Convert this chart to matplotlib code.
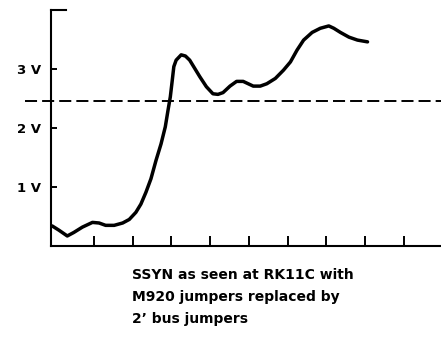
"""SSYN waveform at the RK11C with 2' bus jumpers."""

import matplotlib.pyplot as plt

# time in scope divisions, level in volts
t_div = [-0.08, 0.09, 0.31, 0.48, 0.70, 0.96, 1.13, 1.30, 1.52, 1.74, 1.91,
         2.08, 2.21, 2.34, 2.47, 2.60, 2.73, 2.84, 2.91, 2.97, 3.02, 3.06,
         3.12, 3.25, 3.36, 3.47, 3.60, 3.73, 3.90, 4.07, 4.20, 4.33, 4.51,
         4.68, 4.85, 4.98, 5.11, 5.29, 5.46, 5.68, 5.89, 6.07, 6.24, 6.41,
         6.63, 6.84, 7.06, 7.19, 7.36, 7.58, 7.80, 8.06]
ssyn_v = [0.34, 0.27, 0.17, 0.23, 0.32, 0.40, 0.39, 0.35, 0.35, 0.39, 0.45,
          0.57, 0.71, 0.91, 1.14, 1.45, 1.73, 2.02, 2.30, 2.53, 2.81, 3.04,
          3.15, 3.24, 3.22, 3.15, 3.01, 2.87, 2.70, 2.58, 2.57, 2.60, 2.71,
          2.79, 2.79, 2.75, 2.71, 2.71, 2.75, 2.84, 2.98, 3.12, 3.32, 3.49,
          3.62, 3.69, 3.73, 3.69, 3.62, 3.54, 3.49, 3.46]
threshold_v = 2.46
y_ticks = [1, 2, 3]
y_labels = ["1 V", "2 V", "3 V"]
x_ticks = [1, 2, 3, 4, 5, 6, 7, 8, 9]
caption_lines = ["SSYN as seen at RK11C with",
                 "M920 jumpers replaced by",
                 "2\u2019 bus jumpers"]

W, H = 441, 340
fig = plt.figure(figsize=(W / 100, H / 100), dpi=100)
ax = fig.add_axes([51 / W, (H - 246) / H, (W - 51) / W, 236 / H])

ax.plot(t_div, ssyn_v, color="black", linewidth=2.5,
        solid_joinstyle="round", solid_capstyle="round")

# receiver threshold, running a little past the axis on the left
ax.axhline(threshold_v, xmin=-26 / (W - 51), xmax=1, color="black",
           linewidth=1.4, dashes=(6.2, 2.6), clip_on=False)

ax.set_xlim(-0.11, 9.956)
ax.set_ylim(0, 4)

for side in ("top", "right"):
    ax.spines[side].set_visible(False)
ax.spines["left"].set_linewidth(1.5)
ax.spines["bottom"].set_linewidth(1.5)

# small serif at the top of the voltage axis
ax.plot([0, 15 / (W - 51)], [1, 1], transform=ax.transAxes, color="black",
        linewidth=1.5, clip_on=False, solid_capstyle="projecting")

ax.set_yticks(y_ticks)
ax.set_yticklabels(y_labels)
ax.set_xticks(x_ticks)
ax.set_xticklabels([])
ax.tick_params(axis="y", direction="in", length=4, width=1.4, pad=7,
               labelsize=9.5)
ax.tick_params(axis="x", direction="in", length=7, width=1.4)
for lab in ax.get_yticklabels():
    lab.set_fontfamily("DejaVu Sans")
    lab.set_fontweight("bold")

for i, line in enumerate(caption_lines):
    fig.text(132 / W, 1 - (279 + 22 * i) / H, line, ha="left",
             va="baseline", fontsize=10, family="DejaVu Sans",
             fontweight="semibold")

plt.savefig("out.png", dpi=100)
